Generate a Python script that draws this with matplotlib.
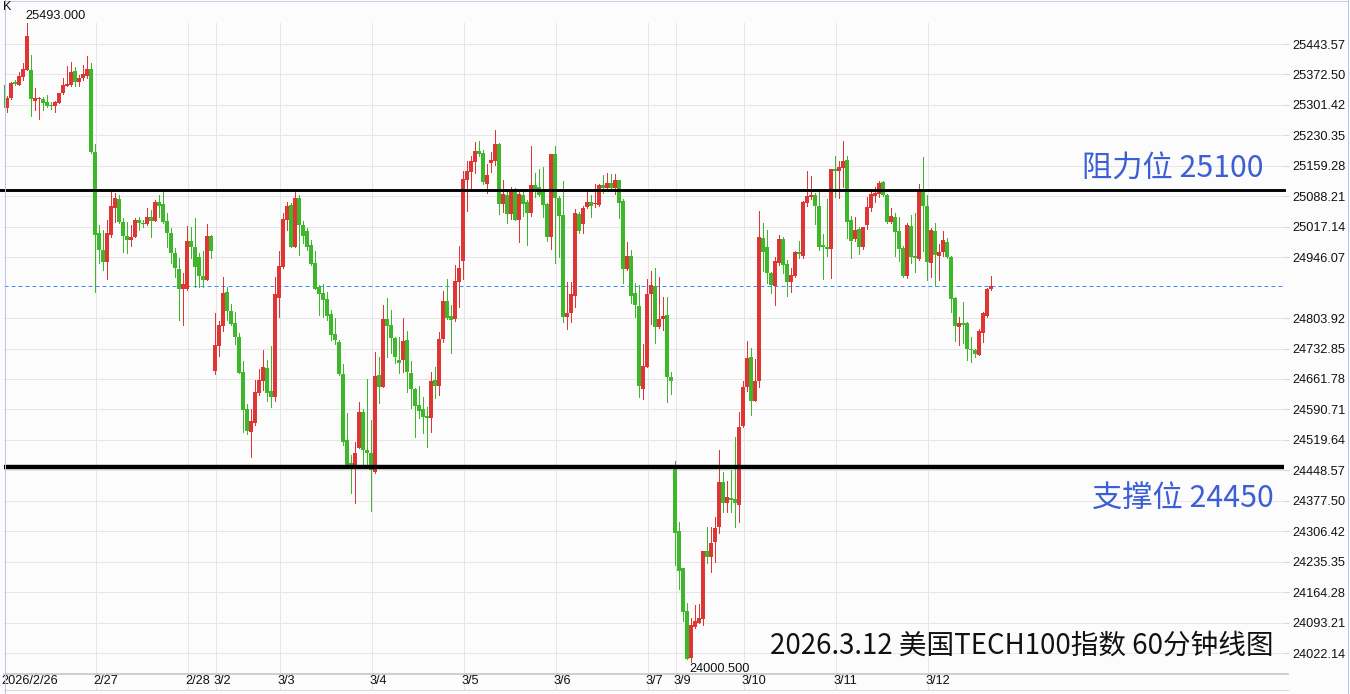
import matplotlib
matplotlib.use('Agg')
import matplotlib.pyplot as plt
import numpy as np
from matplotlib.lines import Line2D
from matplotlib.transforms import blended_transform_factory

plt.rcParams['font.family'] = ['Liberation Sans', 'Noto Sans CJK SC', 'DejaVu Sans']

# ---------------- data (60-minute candles) ----------------
day_labels = ['2026/2/26', '2/27', '2/28', '3/2', '3/3', '3/4', '3/5', '3/6',
              '3/7', '3/9', '3/10', '3/11', '3/12']
bars_per_day = [23, 23, 7, 16, 23, 23, 23, 23, 7, 17, 23, 23, 17]

opens = [
    25348, 25294, 25318, 25355, 25348, 25367, 25383, 25383, 25311, 25315,
    25315, 25308, 25301, 25299, 25306, 25329, 25346, 25348, 25381, 25355,
    25364, 25369, 25385, 25192, 25003, 24963, 24935, 24998, 25061, 25082,
    25028, 24995, 24986, 24993, 25033, 25026, 25023, 25040, 25030, 25075,
    25070, 25030, 25003, 24956, 24918, 24872, 24872, 24984, 24970, 24946,
    24902, 24893, 24995, 24680, 24739, 24785, 24865, 24820, 24792, 24760,
    24678, 24592, 24538, 24559, 24629, 24657, 24687, 24634, 24620, 24851,
    24923, 25033, 25068, 24970, 25084, 25021, 25007, 24975, 24932, 24876,
    24862, 24848, 24813, 24767, 24748, 24673, 24519, 24466, 24459, 24501,
    24585, 24496, 24489, 24445, 24671, 24643, 24802, 24788, 24757, 24706,
    24706, 24753, 24676, 24638, 24601, 24592, 24575, 24571, 24659, 24645,
    24755, 24844, 24809, 24802, 24888, 24937, 25126, 25145, 25168, 25194,
    25189, 25117, 25166, 25171, 25210, 25070, 25091, 25047, 25103, 25033,
    25091, 25075, 25049, 25115, 25110, 25103, 25070, 24993, 25187, 25084,
    25045, 24806, 24816, 24855, 25047, 25023, 25063, 25075, 25070, 25068,
    25115, 25108, 25119, 25108, 25126, 25077, 24918, 24949, 24862, 24832,
    24638, 24690, 24860, 24879, 24783, 24802, 24811, 24666, 24452, 24307,
    24221, 24120, 24011, 24083, 24092, 24102, 24260, 24246, 24281, 24316,
    24421, 24372, 24384, 24382, 24368, 24552, 24643, 24713, 24610, 24657,
    24991, 24970, 24909, 24879, 24932, 24988, 24930, 24888, 24902, 24958,
    24949, 25072, 25087, 25091, 25066, 24975, 24970, 24965, 25152, 25147,
    25154, 25173, 25033, 24988, 25012, 24970, 25021, 25061, 25089, 25094,
    25122, 25091, 25028, 25040, 25007, 24967, 24902, 25019, 24949, 24942,
    25103, 25066, 24932, 25007, 24949, 24958, 24982, 24946, 24851, 24783,
    24792, 24792, 24732, 24729, 24718, 24769, 24809, 24872]
highs = [
    25360, 25322, 25355, 25360, 25378, 25399, 25493, 25418, 25341, 25320,
    25320, 25325, 25308, 25311, 25329, 25364, 25392, 25402, 25390, 25371,
    25395, 25416, 25399, 25210, 25021, 25010, 25033, 25100, 25096, 25091,
    25037, 25028, 25021, 25037, 25040, 25033, 25061, 25056, 25080, 25091,
    25100, 25049, 25014, 24967, 24944, 24909, 25019, 25016, 25037, 24956,
    24960, 25023, 24998, 24816, 24797, 24900, 24876, 24837, 24818, 24769,
    24704, 24603, 24592, 24659, 24685, 24729, 24706, 24739, 24900, 24960,
    25049, 25075, 25072, 25100, 25091, 25030, 25014, 24986, 24960, 24881,
    24883, 24865, 24823, 24804, 24753, 24697, 24582, 24484, 24515, 24608,
    24592, 24662, 24566, 24725, 24713, 24834, 24851, 24823, 24760, 24760,
    24804, 24774, 24704, 24641, 24645, 24620, 24596, 24678, 24690, 24771,
    24867, 24895, 24834, 24928, 24972, 25147, 25171, 25182, 25215, 25217,
    25196, 25164, 25192, 25243, 25213, 25126, 25100, 25110, 25108, 25098,
    25098, 25080, 25206, 25143, 25152, 25157, 25072, 25187, 25206, 25089,
    25124, 24888, 24888, 25058, 25052, 25066, 25098, 25091, 25117, 25117,
    25138, 25143, 25140, 25140, 25126, 25082, 24982, 24963, 24886, 24881,
    24743, 24895, 24914, 24921, 24900, 24853, 24853, 24678, 24470, 24328,
    24221, 24139, 24104, 24134, 24137, 24260, 24316, 24316, 24340, 24496,
    24445, 24424, 24449, 24526, 24585, 24657, 24750, 24734, 24708, 25054,
    25026, 25010, 24911, 24946, 24998, 24993, 24939, 24921, 24960, 24984,
    25077, 25147, 25136, 25096, 25103, 25000, 25082, 25152, 25182, 25171,
    25217, 25182, 25042, 25040, 25016, 25016, 25087, 25098, 25110, 25124,
    25124, 25094, 25061, 25049, 25040, 24972, 25026, 25045, 25049, 25117,
    25180, 25091, 25014, 25026, 24977, 25007, 24991, 24949, 24853, 24806,
    24841, 24795, 24760, 24732, 24778, 24818, 24874, 24902]
lows = [
    25269, 25285, 25315, 25348, 25348, 25360, 25383, 25276, 25290, 25269,
    25290, 25297, 25292, 25285, 25306, 25327, 25346, 25346, 25346, 25346,
    25360, 25364, 25189, 24865, 24932, 24916, 24895, 24993, 25028, 25026,
    24958, 24956, 24972, 24993, 25010, 25016, 25021, 24993, 25030, 25040,
    25026, 24970, 24932, 24900, 24799, 24788, 24869, 24944, 24876, 24876,
    24876, 24893, 24944, 24673, 24715, 24774, 24799, 24788, 24743, 24676,
    24538, 24533, 24480, 24554, 24624, 24636, 24610, 24596, 24610, 24806,
    24921, 25010, 24970, 24970, 24951, 24979, 24963, 24928, 24872, 24811,
    24806, 24799, 24753, 24743, 24671, 24508, 24456, 24396, 24372, 24501,
    24461, 24456, 24354, 24443, 24606, 24643, 24713, 24722, 24699, 24676,
    24678, 24631, 24594, 24526, 24571, 24536, 24503, 24538, 24617, 24624,
    24748, 24802, 24722, 24797, 24830, 24895, 25054, 25103, 25143, 25182,
    25117, 25096, 25145, 25161, 25047, 25052, 25026, 25035, 25033, 24982,
    25042, 24975, 25042, 25087, 25089, 25040, 24984, 24965, 24932, 24946,
    24795, 24778, 24795, 24830, 25003, 25003, 25061, 25040, 25063, 25066,
    25096, 25103, 25103, 25094, 25037, 24886, 24916, 24839, 24806, 24620,
    24615, 24690, 24790, 24746, 24781, 24776, 24608, 24627, 24228, 24172,
    24097, 24008, 24000.5, 24081, 24092, 24088, 24232, 24211, 24235, 24302,
    24351, 24351, 24351, 24316, 24328, 24550, 24634, 24578, 24610, 24643,
    24914, 24886, 24862, 24834, 24928, 24909, 24855, 24865, 24900, 24944,
    24944, 25066, 25082, 25023, 24963, 24895, 24949, 24897, 25087, 25084,
    25110, 24991, 24944, 24984, 24953, 24965, 25012, 25054, 25075, 25087,
    25089, 25026, 25026, 24949, 24937, 24900, 24897, 24932, 24911, 24939,
    24960, 24893, 24900, 24879, 24893, 24949, 24944, 24818, 24750, 24741,
    24746, 24706, 24701, 24713, 24718, 24748, 24806, 24869]
closes = [
    25294, 25318, 25353, 25350, 25369, 25385, 25462, 25315, 25318, 25318,
    25306, 25299, 25299, 25308, 25329, 25348, 25350, 25378, 25355, 25364,
    25374, 25385, 25192, 24998, 24963, 24935, 25003, 25066, 25084, 25028,
    24995, 24986, 24993, 25033, 25026, 25024, 25040, 25030, 25075, 25066,
    25028, 25003, 24956, 24921, 24872, 24883, 24984, 24970, 24923, 24902,
    24893, 24995, 24960, 24741, 24788, 24862, 24820, 24790, 24760, 24676,
    24589, 24540, 24564, 24631, 24659, 24690, 24629, 24620, 24860, 24925,
    25035, 25066, 24970, 25084, 25021, 24995, 24970, 24930, 24872, 24860,
    24846, 24809, 24764, 24753, 24673, 24515, 24461, 24454, 24489, 24585,
    24496, 24489, 24449, 24669, 24643, 24802, 24785, 24757, 24713, 24699,
    24750, 24678, 24638, 24599, 24587, 24573, 24571, 24657, 24645, 24755,
    24844, 24804, 24799, 24890, 24921, 25129, 25147, 25171, 25194, 25187,
    25122, 25138, 25173, 25210, 25070, 25094, 25047, 25100, 25033, 25094,
    25070, 25049, 25115, 25103, 25091, 25068, 24993, 25187, 25084, 25042,
    24806, 24816, 24860, 25049, 25007, 25061, 25075, 25066, 25072, 25115,
    25108, 25119, 25108, 25126, 25072, 24918, 24949, 24855, 24834, 24645,
    24692, 24860, 24881, 24783, 24802, 24809, 24666, 24657, 24302, 24214,
    24118, 24008, 24088, 24097, 24104, 24260, 24246, 24279, 24314, 24421,
    24372, 24386, 24379, 24372, 24550, 24643, 24711, 24610, 24657, 24993,
    24958, 24909, 24881, 24937, 24988, 24928, 24888, 24904, 24958, 24953,
    25075, 25089, 25091, 25066, 24970, 24970, 24965, 25152, 25147, 25157,
    25171, 25028, 24984, 25010, 24970, 25016, 25063, 25094, 25096, 25119,
    25091, 25028, 25042, 25005, 24965, 24902, 25021, 24946, 24944, 25103,
    25066, 24935, 25010, 24951, 24958, 24986, 24946, 24848, 24785, 24792,
    24788, 24732, 24729, 24720, 24774, 24816, 24872, 24878.25]

resistance = 25104          # drawn level (labelled 25100)
support = 24456             # drawn level (labelled 24450)
resistance_text = '阻力位 25100'
support_text = '支撑位 24450'
title_text = '2026.3.12 美国TECH100指数 60分钟线图'
last_price_text = '24878.25'
y_tick_labels = ['25443.57', '25372.50', '25301.42', '25230.35', '25159.28',
                 '25088.21', '25017.14', '24946.07', '24803.92', '24732.85',
                 '24661.78', '24590.71', '24519.64', '24448.57', '24377.50',
                 '24306.42', '24235.35', '24164.28', '24093.21', '24022.14']

# ---------------- styling ----------------
RED = '#e03535'
GREEN = '#3db82b'
BLUE_TXT = '#3d5fd6'
GRID = '#e6e6e6'
BG = '#fcfcfc'
PX = 0.72  # one pixel in points at 100 dpi

W, H = 1350, 694
fig = plt.figure(figsize=(13.5, 6.94), dpi=100, facecolor=BG)


def fx(px):
    return px / W


def fy(py):
    return 1 - py / H


AX_L, AX_R, AX_T, AX_B = 4, 1284, 0, 673
ax = fig.add_axes([fx(AX_L), fy(AX_B), fx(AX_R) - fx(AX_L), fy(AX_T) - fy(AX_B)])
ax.set_facecolor(BG)
for s in ax.spines.values():
    s.set_visible(False)

o = np.array(opens, float)
h = np.array(highs, float)
l = np.array(lows, float)
c = np.array(closes, float)
idx = np.arange(len(o))

ax.set_xlim(0.25, 320.25)
ax.set_ylim(23975.5, 25546.3)

# y ticks on the right
tick_vals = [float(t) for t in y_tick_labels]
ax.yaxis.tick_right()
ax.set_yticks(tick_vals)
ax.set_yticklabels(y_tick_labels)
ax.tick_params(axis='y', direction='out', length=5 * PX, width=PX, color='#d4d4d4',
               pad=3.5 * PX, labelsize=9.2, labelcolor='#111111')
ax.set_xticks([])
ax.grid(axis='y', color=GRID, lw=PX, zorder=0)
ax.set_axisbelow(True)

# day separators and labels
starts = np.cumsum([0] + bars_per_day[:-1])
bt = blended_transform_factory(ax.transData, ax.transAxes)
top_frac = (AX_B - 23) / (AX_B - AX_T)
below_frac = (AX_B - 689) / (AX_B - AX_T)
for s, lab in zip(starts, day_labels):
    if s > 0:
        ax.plot([s + 0.15, s + 0.15], [below_frac, top_frac], transform=bt, color=GRID,
                lw=PX, zorder=0.5, clip_on=False)
    ax.text(s - 0.4, (AX_B - 681) / (AX_B - AX_T), lab, transform=bt, ha='left',
            va='center', fontsize=9.2, color='#111111')

# last price dashed line
last = c[-1]
ax.axhline(last, color='#3f8cf5', lw=PX, ls=(0, (4, 3)), zorder=1)

# candles
up = c >= o
cols = np.where(up, RED, GREEN)
ax.vlines(idx, l, h, colors=cols, lw=PX, zorder=2, antialiased=False)
body_lo = np.minimum(o, c)
body_h = np.maximum(np.abs(c - o), 2.4)
ax.bar(idx, body_h, bottom=body_lo, width=0.78, color=cols, linewidth=0, zorder=3,
       antialiased=False)

# resistance / support lines
ax.axhline(resistance, xmin=-0.004, xmax=1.0, color='black', lw=2.9 * PX, zorder=4,
           clip_on=False)
ax.axhline(support, color='black', lw=4.4 * PX, zorder=4)

# high / low marks
ih = int(np.argmax(h))
il = int(np.argmin(l))
ax.text(ih - 0.3, h[ih] + 1, f'{h[ih]:.3f}', ha='left', va='bottom', fontsize=9.2,
        color='#111111', zorder=5)
ax.text(il - 0.3, l[il] - 1, f'{l[il]:.3f}', ha='left', va='top', fontsize=9.2,
        color='#111111', zorder=5)

# last price tag
ax.text(1.0078, last, last_price_text, transform=bt, ha='left', va='center',
        fontsize=9.2, color='white', zorder=6, clip_on=False,
        bbox=dict(boxstyle='square,pad=0.12', facecolor='#2f8e1d', edgecolor='none'))

# annotation texts
cjk = ['Noto Sans CJK SC', 'DejaVu Sans']
fig.text(fx(1264), fy(169), resistance_text, ha='right', va='center', fontsize=21.8,
         color=BLUE_TXT, family=cjk)
fig.text(fx(1274), fy(499), support_text, ha='right', va='center', fontsize=21.8,
         color=BLUE_TXT, family=cjk)
fig.text(fx(1274), fy(646), title_text, ha='right', va='center', fontsize=19.9,
         color='#111111', family=cjk)
fig.text(fx(3), fy(7), 'K', ha='left', va='center', fontsize=9.2, color='#111111')

# axis separator lines and frame
fig.add_artist(Line2D([fx(AX_L), fx(AX_R + 4)], [fy(673.5)] * 2, color='#c4c4c4',
                      lw=1.6 * PX))
fig.add_artist(Line2D([fx(AX_L), fx(AX_R + 4)], [fy(689.5)] * 2, color='#d8d8d8',
                      lw=PX))
fig.add_artist(Line2D([fx(4.5)] * 2, [0, 1], color='#b7c5f2', lw=PX))
fig.add_artist(Line2D([fx(1347.5)] * 2, [0, 1], color='#b7c5f2', lw=PX))
fig.add_artist(Line2D([fx(4), fx(1347.5)], [fy(0.5)] * 2, color='#c8cfe6', lw=PX))

fig.savefig('out.png', dpi=100, facecolor=BG)
